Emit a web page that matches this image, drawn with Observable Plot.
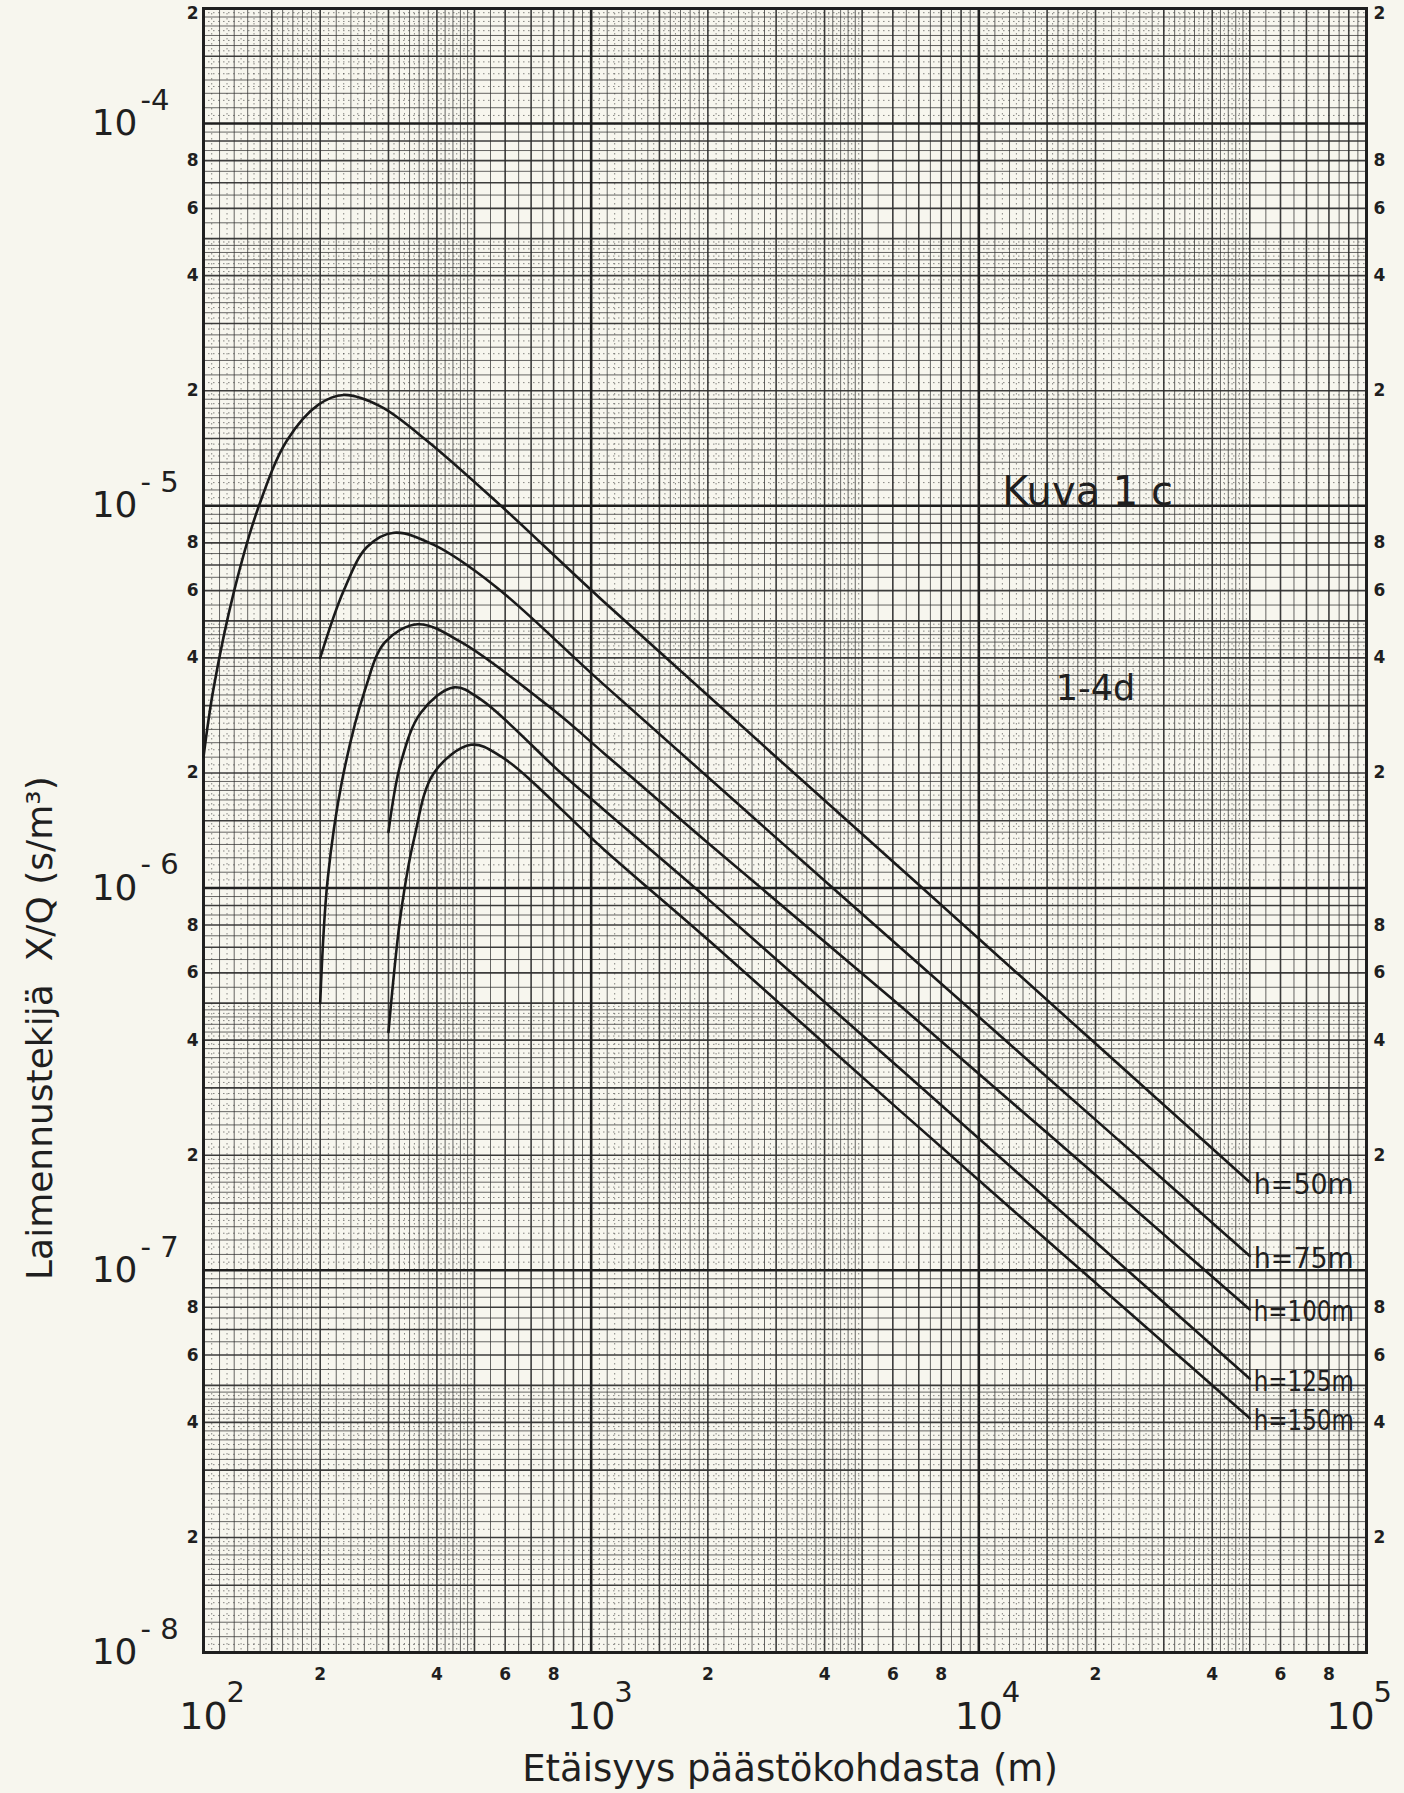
<!DOCTYPE html>
<html>
<head>
<meta charset="utf-8">
<script src="https://cdn.jsdelivr.net/npm/d3@7"></script>
<script src="https://cdn.jsdelivr.net/npm/@observablehq/plot@0.6"></script>
<style>
  html, body { margin: 0; padding: 0; background: #f7f6ee; }
  #chart svg { display: block; }
</style>
</head>
<body>
<div id="chart"></div>
<script>
// ---------- data ----------
const xDecades = [1e2, 1e3, 1e4, 1e5];
const xDecadeExp = ["2", "3", "4", "5"];
const yDecades = [1e-4, 1e-5, 1e-6, 1e-7, 1e-8];
const yDecadeExp = ["-4", "- 5", "- 6", "- 7", "- 8"];
const minorDigits = [2, 4, 6, 8];

const curveLabels = ["h=50m", "h=75m", "h=100m", "h=125m", "h=150m"];

const dist50 = [100, 106, 120, 139, 164, 198, 230, 286, 377, 585, 1080, 7000, 20800, 50000];
const chi50  = [2.2e-6, 3.3e-6, 6.0e-6, 1.0e-5, 1.48e-5, 1.84e-5, 1.95e-5, 1.82e-5, 1.48e-5, 1.0e-5, 5.6e-6, 1.02e-6, 3.78e-7, 1.7e-7];

const dist75 = [200, 230, 264, 310, 393, 561, 1080, 4250, 20800, 50000];
const chi75  = [4.0e-6, 6.0e-6, 7.8e-6, 8.5e-6, 7.9e-6, 6.2e-6, 3.4e-6, 9.9e-7, 2.39e-7, 1.09e-7];

const dist100 = [200, 209, 228, 261, 294, 357, 462, 807, 1080, 1970, 6300, 50000];
const chi100  = [5.0e-7, 1.05e-6, 1.92e-6, 3.3e-6, 4.4e-6, 4.9e-6, 4.4e-6, 2.9e-6, 2.25e-6, 1.33e-6, 4.9e-7, 7.9e-8];

const dist125 = [300, 323, 364, 443, 520, 836, 1080, 2040, 6300, 50000];
const chi125  = [1.4e-6, 2.13e-6, 2.88e-6, 3.35e-6, 3.11e-6, 2.0e-6, 1.6e-6, 9.2e-7, 3.35e-7, 5.2e-8];

const dist150 = [300, 323, 349, 393, 490, 585, 1080, 2040, 6300, 50000];
const chi150  = [4.2e-7, 8.6e-7, 1.34e-6, 2.0e-6, 2.37e-6, 2.21e-6, 1.26e-6, 7.2e-7, 2.6e-7, 4.1e-8];

const annotations = ["Kuva 1 c", "1-4d"];
const xTitle = "Etäisyys päästökohdasta (m)";
const yTitle = "Laimennustekijä  X/Q (s/m³)";

// ---------- derived tables ----------
const seriesDist = [dist50, dist75, dist100, dist125, dist150];
const seriesChi = [chi50, chi75, chi100, chi125, chi150];
const curves = seriesDist.map((ds, i) => ds.map((d, j) => ({h: curveLabels[i], x: d, y: seriesChi[i][j]})));
const curveEnds = curves.map(c => c[c.length - 1]);

const X_DOMAIN = [1e2, 1e5];
const Y_DOMAIN = [1e-8, 2e-4];

// log-paper grid lines (structure of the printed paper)
function logGrid(decades, lo, hi) {
  const fine = [], mid = [], dots = [];
  for (const d of decades) {
    for (let k = 11; k < 20; k++) (k === 15 ? mid : fine).push(d * k / 10);
    for (let k = 105; k < 200; k += 10) dots.push(d * k / 100);
    for (let k = 22; k < 50; k += 2) if (k % 10) fine.push(d * k / 10);
    for (let k = 21; k < 50; k += 2) dots.push(d * k / 10);
    for (let k = 55; k < 100; k += 10) fine.push(d * k / 10);
    for (let k = 2; k < 10; k++) mid.push(d * k);
  }
  const inR = v => v > lo * 1.0001 && v < hi * 0.9999;
  return {fine: fine.filter(inR), mid: mid.filter(inR), dots: dots.filter(inR)};
}
const xg = logGrid([1e2, 1e3, 1e4], ...X_DOMAIN);
const yg = logGrid([1e-8, 1e-7, 1e-6, 1e-5, 1e-4], ...Y_DOMAIN);

const xMinor = [1e2, 1e3, 1e4].flatMap(d => minorDigits.map(m => ({v: d * m, t: String(m)})));
const yMinor = [1e-8, 1e-7, 1e-6, 1e-5].flatMap(d => minorDigits.map(m => ({v: d * m, t: String(m)})));
const yTop = [{v: 2e-4, t: "2"}];

const xDec = xDecades.map((v, i) => ({v, e: xDecadeExp[i]}));
const yDec = yDecades.map((v, i) => ({v, e: yDecadeExp[i]}));

const ink = "#1f1f1f";
const lineCol = "#2b2b2b";
const minorFont = {fontSize: 17, fontWeight: "bold", fill: ink};

const chart = Plot.plot({
  width: 1404,
  height: 1793,
  marginLeft: 203,
  marginRight: 38,
  marginTop: 8,
  marginBottom: 141,
  style: {background: "#f7f6ee", fontFamily: "DejaVu Sans, sans-serif", color: ink},
  x: {type: "log", domain: X_DOMAIN, axis: null},
  y: {type: "log", domain: Y_DOMAIN, axis: null},
  marks: [
    // graph paper
    Plot.ruleX(xg.dots, {stroke: lineCol, strokeWidth: 1, strokeOpacity: 0.55, strokeDasharray: "1.5,3.5"}),
    Plot.ruleY(yg.dots, {stroke: lineCol, strokeWidth: 1, strokeOpacity: 0.55, strokeDasharray: "1.5,3.5"}),
    Plot.ruleX(xg.fine, {stroke: lineCol, strokeWidth: 0.9, strokeOpacity: 0.8}),
    Plot.ruleY(yg.fine, {stroke: lineCol, strokeWidth: 0.9, strokeOpacity: 0.8}),
    Plot.ruleX(xg.mid, {stroke: lineCol, strokeWidth: 1.6, strokeOpacity: 0.92}),
    Plot.ruleY(yg.mid, {stroke: lineCol, strokeWidth: 1.6, strokeOpacity: 0.92}),
    Plot.ruleX(xDecades.slice(1, 3), {stroke: ink, strokeWidth: 2.6}),
    Plot.ruleY(yDecades.slice(0, 4), {stroke: ink, strokeWidth: 2.6}),
    Plot.frame({stroke: ink, strokeWidth: 3}),

    // curves
    ...curves.map(c => Plot.line(c, {x: "x", y: "y", stroke: "#1a1a1a", strokeWidth: 2.6, curve: "catmull-rom"})),
    Plot.text(curveEnds, {x: "x", y: "y", text: "h", textAnchor: "start", dx: 4, dy: 3, fontSize: 28, fill: ink}),

    // annotations
    Plot.text([annotations[0]], {x: 1.15e4, y: 1e-5, text: d => d, textAnchor: "start", lineAnchor: "bottom", dy: -1, fontSize: 40, fill: ink}),
    Plot.text([annotations[1]], {x: 2e4, y: 3.1e-6, text: d => d, textAnchor: "middle", lineAnchor: "bottom", fontSize: 35, fill: ink, letterSpacing: 9}),

    // y axis labels (left & right minor digits)
    Plot.text(yMinor, {y: "v", text: "t", frameAnchor: "left", textAnchor: "end", dx: -5, ...minorFont}),
    Plot.text(yMinor, {y: "v", text: "t", frameAnchor: "right", textAnchor: "start", dx: 7, ...minorFont}),
    Plot.text(yTop, {y: "v", text: "t", frameAnchor: "left", textAnchor: "end", dx: -5, dy: 5, ...minorFont}),
    Plot.text(yTop, {y: "v", text: "t", frameAnchor: "right", textAnchor: "start", dx: 7, dy: 5, ...minorFont}),
    // y decade labels
    Plot.text(yDec, {y: "v", text: () => "10", frameAnchor: "left", textAnchor: "end", dx: -66, fontSize: 36, fill: ink}),
    Plot.text(yDec, {y: "v", text: "e", frameAnchor: "left", textAnchor: "start", dx: -63, dy: -23, fontSize: 29, fill: ink}),

    // x axis labels
    Plot.text(xMinor, {x: "v", text: "t", frameAnchor: "bottom", dy: 27, ...minorFont}),
    Plot.text(xDec.slice(0, 3), {x: "v", text: () => "10", frameAnchor: "bottom", textAnchor: "middle", dy: 76, fontSize: 38, fill: ink}),
    Plot.text(xDec.slice(0, 3), {x: "v", text: "e", frameAnchor: "bottom", textAnchor: "start", dx: 23, dy: 49, fontSize: 29, fill: ink}),
    Plot.text(xDec.slice(3), {x: "v", text: () => "10", frameAnchor: "bottom", textAnchor: "middle", dx: -16, dy: 76, fontSize: 38, fill: ink}),
    Plot.text(xDec.slice(3), {x: "v", text: "e", frameAnchor: "bottom", textAnchor: "start", dx: 7, dy: 49, fontSize: 29, fill: ink}),

    // axis titles
    Plot.text([xTitle], {text: d => d, frameAnchor: "bottom", textAnchor: "middle", dx: 5, dy: 128, fontSize: 37, fill: ink, letterSpacing: 4.5}),
    Plot.text([yTitle], {text: d => d, frameAnchor: "left", textAnchor: "middle", y: 4.3e-7, dx: -163, rotate: -90, fontSize: 36, fill: ink, letterSpacing: 1.5})
  ]
});

// the hand-lettered curve labels are narrow: fit them to the width seen in the reference
d3.select(chart).selectAll("text")
  .filter(function () { return /^h=/.test(this.textContent); })
  .attr("textLength", 100)
  .attr("lengthAdjust", "spacingAndGlyphs");

document.getElementById("chart").appendChild(chart);
</script>
</body>
</html>
